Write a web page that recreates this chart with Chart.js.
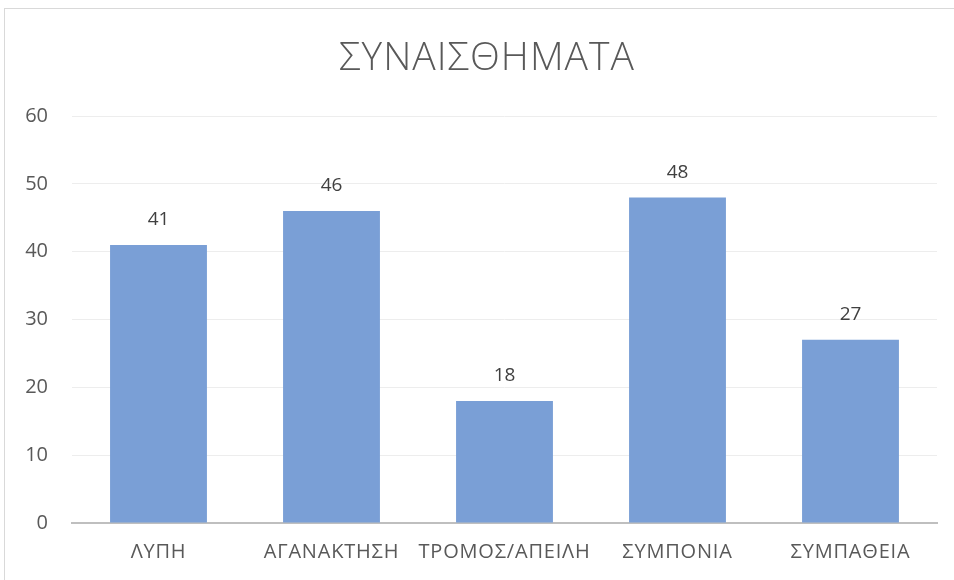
<!DOCTYPE html>
<html>
<head>
<meta charset="utf-8">
<script src="https://cdn.jsdelivr.net/npm/chart.js@4/dist/chart.umd.min.js"></script>
<style>
  html, body { margin: 0; padding: 0; background: #fff; }
  #wrap { position: relative; width: 954px; height: 580px; overflow: hidden; }
  #frame { position: absolute; left: 4px; top: 8px; width: 960px; height: 600px;
           border-left: 1px solid #d9d9d9; border-top: 1px solid #d9d9d9; box-sizing: border-box; }
  canvas { position: absolute; left: 0; top: 0; }
</style>
</head>
<body>
<div id="wrap">
  <div id="frame"></div>
  <canvas id="c" width="954" height="580"></canvas>
</div>
<script>
const chartTitle = 'ΣΥΝΑΙΣΘΗΜΑΤΑ';
const categories = ['ΛΥΠΗ', 'ΑΓΑΝΑΚΤΗΣΗ', 'ΤΡΟΜΟΣ/ΑΠΕΙΛΗ', 'ΣΥΜΠΟΝΙΑ', 'ΣΥΜΠΑΘΕΙΑ'];
const values = [41, 46, 18, 48, 27];
const yTicks = [0, 10, 20, 30, 40, 50, 60];

const FONT = '"Open Sans", "Noto Sans", sans-serif';

const extras = {
  id: 'extras',
  beforeDraw(chart) {
    const s = chart.scales.x;
    if (s && !s._spaced) {
      const orig = s.drawLabels.bind(s);
      s.drawLabels = function (ca) {
        const ctx = this.ctx;
        ctx.save();
        ctx.letterSpacing = '0.8px';
        orig(ca);
        ctx.restore();
      };
      s._spaced = true;
    }
  },
  afterDraw(chart) {
    const ctx = chart.ctx;
    ctx.save();
    ctx.fillStyle = '#595959';
    ctx.font = '300 39px ' + FONT;
    ctx.letterSpacing = '1px';
    ctx.textAlign = 'center';
    ctx.textBaseline = 'alphabetic';
    ctx.fillText(chartTitle, 487, 70);
    ctx.restore();
  },
  afterDatasetsDraw(chart) {
    const ctx = chart.ctx;
    const meta = chart.getDatasetMeta(0);
    ctx.save();
    ctx.fillStyle = '#404040';
    ctx.font = '19px ' + FONT;
    ctx.textAlign = 'center';
    ctx.textBaseline = 'middle';
    meta.data.forEach((bar, i) => {
      ctx.fillText(String(values[i]), bar.x, bar.y - 25);
    });
    ctx.restore();
  }
};

new Chart(document.getElementById('c'), {
  type: 'bar',
  data: {
    labels: categories,
    datasets: [{
      data: values,
      backgroundColor: '#7a9fd6',
      borderWidth: 0,
      categoryPercentage: 1,
      barPercentage: 0.56
    }]
  },
  options: {
    responsive: false,
    animation: false,
    layout: { padding: { left: 0, right: 17, top: 116, bottom: 0 } },
    plugins: {
      legend: { display: false },
      tooltip: { enabled: false },
      title: { display: false }
    },
    scales: {
      x: {
        grid: { display: false, drawTicks: false },
        border: { display: true, color: '#bfbfbf', width: 2 },
        ticks: { color: '#595959', font: { family: FONT, size: 20 }, padding: 17, maxRotation: 0, autoSkip: false },
        afterFit(scale) { scale.height = 57; }
      },
      y: {
        min: 0, max: 60,
        afterBuildTicks(scale) { scale.ticks = yTicks.map(v => ({ value: v })); },
        grid: { color: '#ededed', lineWidth: 1, drawTicks: false },
        border: { display: false },
        ticks: { color: '#595959', font: { family: FONT, size: 20 }, padding: 24 },
        afterFit(scale) { scale.width = 72; }
      }
    }
  },
  plugins: [extras]
});
</script>
</body>
</html>
